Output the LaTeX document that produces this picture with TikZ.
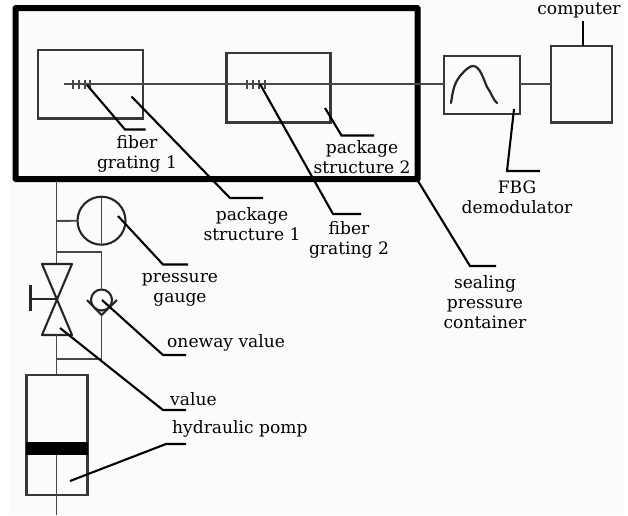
\documentclass[tikz,border=0pt]{standalone}
\usepackage{fontspec}
\setmainfont{DejaVu Serif}
\begin{document}
\begin{tikzpicture}[x=1pt,y=-1pt,
  thin line/.style={line width=1.9pt,draw=black!72},
  box/.style={draw=black!78,line width=2.1pt,fill=none,inner sep=0pt,outer sep=0pt,minimum width=#1},
  leader/.style={line width=2.1pt,draw=black},
  lab/.style={inner sep=0pt,align=center,font=\fontsize{17.1}{20}\selectfont,text=black}]
\useasboundingbox (0,0) rectangle (628,515);
\fill[white] (0,0) rectangle (628,515);
\fill[black!1.5] (10,0) rectangle (623,515);
% boxes
\node[box=104.7pt,minimum height=68.5pt] (pk1) at (90.7,84.2) {};
\node[box=104pt,minimum height=69.5pt] (pk2) at (278.5,87.7) {};
\node[box=76pt,minimum height=58pt] (dem) at (482,85) {};
\node[box=61pt,minimum height=76.5pt] (comp) at (581.5,84.2) {};
\node[draw=black,line width=6pt,inner sep=0pt,outer sep=0pt,minimum width=402pt,minimum height=171pt,rounded corners=0.5pt] (cont) at (216.5,93.5) {};
% fibre
\coordinate (fstart) at (63.5,84);
\coordinate (dw) at (dem.west|-fstart);
\draw[thin line] (fstart) -- (dw);
\draw[thin line,line width=2.1pt] (dem.east|-fstart) -- (comp.west|-fstart);
\foreach \x in {73,79,85,90,247,253,259,265} \draw[thin line] (\x,79.5) -- (\x,89);
% spectrum curve
\draw[line width=2.2pt,draw=black!85,line cap=round] (451,103) .. controls (453,90) and (454,84) .. (460,76) .. controls (466,69) and (470,66) .. (473,66) .. controls (480,66) and (483,78) .. (487,87) .. controls (491,92) and (493,100) .. (497,103);
% gauge line
\node[draw=black!85,circle,line width=2.1pt,minimum size=48pt,inner sep=0pt,outer sep=0pt] (gauge) at (101.5,220.7) {};
\draw[thin line] (gauge.north) -- (gauge.south);
\coordinate (t0) at (56.5,181);
\coordinate (b1) at (56.5,221);
\coordinate (b2) at (56.5,252);
\coordinate (vt) at (56.5,264);
\coordinate (vm) at (56.5,299);
\coordinate (vb) at (56.5,335);
\coordinate (b3) at (56.5,358.7);
\coordinate (pt) at (56.5,375);
\coordinate (pb) at (56.5,515);
\draw[thin line] (t0) -- (vt);
\draw[thin line] (b1) -- (gauge.west);
% check branch
\node[draw=black!85,circle,line width=2.1pt,minimum size=21pt,inner sep=0pt,outer sep=0pt] (chk) at (101.5,300) {};
\draw[thin line] (b2) -| (chk.north);
\coordinate (chkv) at (101.5,315);
\draw[line width=2.1pt,draw=black!85] (87,300) -- (chkv) -- (117,300);
\draw[thin line] (chkv) |- (b3);
% valve
\draw[line width=2.1pt,draw=black!85,line join=round] (42,264) -- (72,264) -- (42,335) -- (72,335) -- cycle;
\draw[line width=2pt,draw=black!85] (vm) -- (30,299);
\draw[line width=3pt,draw=black!85] (30,285) -- (30,311);
\draw[thin line] (vb) -- (pt);
% pump
\node[box=61pt,minimum height=120pt] (pump) at (57,435) {};
\fill[black] (26,441.5) rectangle (88,455);
\draw[thin line] (56.5,455) -- (pb);
% leaders
\draw[leader] (87,85) -- (125,129.5) -- (145.5,129.5);
\draw[leader] (131.5,96.5) -- (230,198) -- (263,198);
\draw[leader] (260,84) -- (333,214) -- (361,214);
\draw[leader] (325,108) -- (341.5,135.5) -- (374,135.5);
\draw[leader] (418,181) -- (470,266) -- (496,266);
\draw[leader] (514,109) -- (507,171) -- (540,171);
\draw[leader] (comp.north-|583,0) -- (583,21);
\draw[leader] (118,216) -- (163,264.5) -- (188,264.5);
\draw[leader] (102,300) -- (163,355) -- (186,355);
\draw[leader] (60,328) -- (163,410) -- (186,410);
\draw[leader] (70,481) -- (166,444) -- (186,444);
% labels
\node[lab] (l1) at (137,154) {fiber\\grating 1};
\node[lab] (l2) at (252,224) {package\\structure 1};
\node[lab] (l3) at (362,157) {package\\structure 2};
\node[lab] (l4) at (349,240) {fiber\\grating 2};
\node[lab] (l5) at (517,197) {FBG\\demodulator};
\node[lab] (l6) at (485,302) {sealing\\pressure\\container};
\node[lab] (l7) at (579,10) {computer};
\node[lab] (l8) at (180,290) {pressure\\gauge};
\node[lab,anchor=west] (l9) at (167,343) {oneway value};
\node[lab,anchor=west] (l10) at (170,399) {value};
\node[lab,anchor=west] (l11) at (172,429) {hydraulic pomp};
\end{tikzpicture}
\end{document}
